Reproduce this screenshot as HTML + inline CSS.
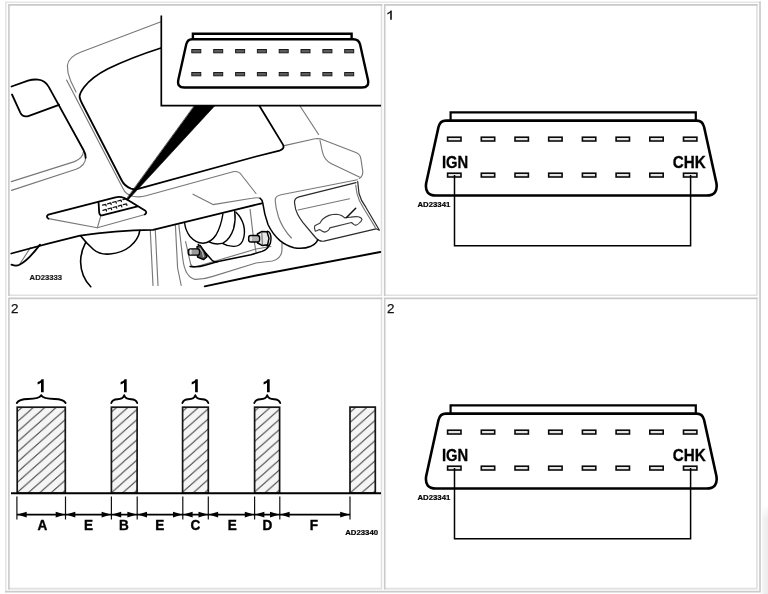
<!DOCTYPE html>
<html>
<head>
<meta charset="utf-8">
<title>Diagnostic connector</title>
<style>
html,body{margin:0;padding:0;background:#fff;width:768px;height:594px;overflow:hidden;}
svg{display:block;position:absolute;left:0;top:0;filter:blur(0.35px);}
text{font-family:"Liberation Sans",sans-serif;}
.b{font-weight:bold;}
</style>
</head>
<body>
<svg width="768" height="594" viewBox="0 0 768 594">
<defs>
  <pattern id="hatch" patternUnits="userSpaceOnUse" width="11.4" height="10.1" patternTransform="translate(18,400.9)">
    <rect x="0" y="0" width="11.4" height="10.1" fill="#f5f5f5"/>
    <path d="M-1.14,11.11 L12.54,-1.01 M-12.54,11.11 L1.14,-1.01 M10.26,11.11 L23.94,-1.01" stroke="#383838" stroke-width="0.95" fill="none"/>
  </pattern>
  <pattern id="hatchB" href="#hatch" patternTransform="translate(111.9,401.4)"/>
  <pattern id="hatchC" href="#hatch" patternTransform="translate(183.3,400.6)"/>
  <pattern id="hatchD" href="#hatch" patternTransform="translate(255.3,400.4)"/>
  <pattern id="hatchE" href="#hatch" patternTransform="translate(350.9,401.4)"/>
  <linearGradient id="shade" x1="0" y1="0" x2="1" y2="0">
    <stop offset="0" stop-color="#ffffff"/>
    <stop offset="0.25" stop-color="#f3f3f3"/>
    <stop offset="1" stop-color="#ebebeb"/>
  </linearGradient>
  <linearGradient id="shadeV" x1="0" y1="0" x2="0" y2="1">
    <stop offset="0" stop-color="#ffffff" stop-opacity="1"/>
    <stop offset="1" stop-color="#ffffff" stop-opacity="0"/>
  </linearGradient>

  <!-- big connector (panels 1 and 2 on the right) -->
  <g id="conn">
    <path d="M450.6,120.5 V112.3 H695.8 V120.5" fill="none" stroke="#000" stroke-width="2.2"/>
    <path d="M446,120.6 H696.5 Q702.6,120.6 704.1,127 L716.4,183 Q718.4,195.5 706.6,195.5 H436 Q424.2,195.5 426.2,183 L438.5,127 Q440,120.6 446,120.6 Z" fill="#fff" stroke="#000" stroke-width="2.6" stroke-linejoin="round"/>
    <g fill="#e4e4e4" stroke="#0a0a0a" stroke-width="1.6">
      <rect x="447.6" y="137.2" width="13.4" height="3.8"/>
      <rect x="481.3" y="137.2" width="13.4" height="3.8"/>
      <rect x="515.0" y="137.2" width="13.4" height="3.8"/>
      <rect x="548.7" y="137.2" width="13.4" height="3.8"/>
      <rect x="582.4" y="137.2" width="13.4" height="3.8"/>
      <rect x="616.1" y="137.2" width="13.4" height="3.8"/>
      <rect x="649.8" y="137.2" width="13.4" height="3.8"/>
      <rect x="683.5" y="137.2" width="13.4" height="3.8"/>
      <rect x="447.6" y="173.2" width="13.4" height="3.8"/>
      <rect x="481.3" y="173.2" width="13.4" height="3.8"/>
      <rect x="515.0" y="173.2" width="13.4" height="3.8"/>
      <rect x="548.7" y="173.2" width="13.4" height="3.8"/>
      <rect x="582.4" y="173.2" width="13.4" height="3.8"/>
      <rect x="616.1" y="173.2" width="13.4" height="3.8"/>
      <rect x="649.8" y="173.2" width="13.4" height="3.8"/>
      <rect x="683.5" y="173.2" width="13.4" height="3.8"/>
    </g>
    <path d="M454.5,175 V245.7 H690.6 V175" fill="none" stroke="#000" stroke-width="1.5"/>
    <text class="b" x="442" y="167.7" font-size="16.2" textLength="26.2" lengthAdjust="spacingAndGlyphs" stroke="#000" stroke-width="0.3">IGN</text>
    <text class="b" x="672.7" y="167.7" font-size="16.2" textLength="33" lengthAdjust="spacingAndGlyphs" stroke="#000" stroke-width="0.3">CHK</text>
    <text class="b" x="417.5" y="207" font-size="7.6" textLength="32.8" lengthAdjust="spacingAndGlyphs" stroke="#000" stroke-width="0.2">AD23341</text>
  </g>
</defs>

<!-- page background -->
<rect x="0" y="0" width="768" height="594" fill="#fff"/>

<!-- right-bottom faint shadow -->
<rect x="761.2" y="505" width="6.8" height="89" fill="url(#shade)"/>
<rect x="761.2" y="505" width="6.8" height="14" fill="url(#shadeV)"/>

<!-- outer frame (outset) -->
<path d="M5.85,592.4 V2.2 M5.1,2.2 H760.8" fill="none" stroke="#e6e6e6" stroke-width="1.6"/>
<path d="M760,1.5 V592.4 M5.1,591.7 H760.8" fill="none" stroke="#cbcbcb" stroke-width="1.7"/>

<!-- panel frames (inset) -->
<g fill="none" stroke-width="1.6">
  <rect x="8.9" y="4.9" width="372.6" height="290.4" fill="#fff" stroke="none"/>
  <path d="M381.5,4.1000000000000005 V296.1 M8.1,295.3 H382.3" stroke="#e0e0e0"/>
  <path d="M8.9,296.1 V4.1000000000000005 M8.1,4.9 H382.3" stroke="#c9c9c9"/>
  <rect x="384.7" y="4.9" width="372.2" height="290.4" fill="#fff" stroke="none"/>
  <path d="M756.9,4.1000000000000005 V296.1 M383.9,295.3 H757.6999999999999" stroke="#e0e0e0"/>
  <path d="M384.7,296.1 V4.1000000000000005 M383.9,4.9 H757.6999999999999" stroke="#c9c9c9"/>
  <rect x="8.9" y="298.4" width="372.6" height="290.2" fill="#fff" stroke="none"/>
  <path d="M381.5,297.59999999999997 V589.4 M8.1,588.6 H382.3" stroke="#e0e0e0"/>
  <path d="M8.9,589.4 V297.59999999999997 M8.1,298.4 H382.3" stroke="#c9c9c9"/>
  <rect x="384.7" y="298.4" width="372.2" height="290.2" fill="#fff" stroke="none"/>
  <path d="M756.9,297.59999999999997 V589.4 M383.9,588.6 H757.6999999999999" stroke="#e0e0e0"/>
  <path d="M384.7,589.4 V297.59999999999997 M383.9,298.4 H757.6999999999999" stroke="#c9c9c9"/>
</g>

<!-- panel numbers -->
<path d="M391.8,10.4 V19.8 H390.2 V12.7 Q389,13.8 387.3,14.4 V13 Q389.7,12 390.7,10.4 Z" fill="#111"/>
<text x="10.9" y="313.3" font-size="13.4" fill="#111" stroke="#111" stroke-width="0.25">2</text>
<text x="387.1" y="313.3" font-size="13.4" fill="#111" stroke="#111" stroke-width="0.25">2</text>

<!-- PANEL TR / BR connectors -->
<use href="#conn"/>
<use href="#conn" transform="translate(0,293)"/>

<!-- PANEL BL: waveform -->
<g>
  <g stroke="#151515" stroke-width="1.7">
    <rect x="17.2" y="407.2" width="48.1" height="86" fill="url(#hatch)"/>
    <rect x="111.4" y="407.2" width="25.7" height="86" fill="url(#hatchB)"/>
    <rect x="182.6" y="407.2" width="25.7" height="86" fill="url(#hatchC)"/>
    <rect x="254.6" y="407.2" width="25" height="86" fill="url(#hatchD)"/>
    <rect x="350" y="407.1" width="25.3" height="86" fill="url(#hatchE)"/>
  </g>
  <path d="M11,493.3 H381" stroke="#000" stroke-width="2" fill="none"/>
  <!-- braces -->
  <g fill="none" stroke="#000" stroke-width="1.9" stroke-linecap="round" stroke-linejoin="round">
    <path d="M16.8,403 Q19,399.2 28,399 Q39.5,399 41.2,395.2 Q43,399 54.5,399 Q63.5,399.2 65.6,403"/>
    <path d="M111.3,403 Q112.5,399.4 117.5,399.2 Q123,399 124.2,395.2 Q125.4,399 131,399.2 Q136,399.4 137.2,403"/>
    <path d="M182.4,403 Q183.6,399.4 188.6,399.2 Q194.1,399 195.3,395.2 Q196.5,399 202.1,399.2 Q207.1,399.4 208.3,403"/>
    <path d="M254.3,403 Q255.5,399.4 260.5,399.2 Q266,399 267.2,395.2 Q268.4,399 274,399.2 Q279,399.4 280.2,403"/>
  </g>
  <g fill="#000">
    <path transform="translate(42.3,379.2)" d="M1.4,0 V13.1 H-1.3 V3.5 Q-2.8,4.8 -4.7,5.3 V2.9 Q-1.6,1.9 -0.7,0 Z"/>
    <path transform="translate(125.3,379.2)" d="M1.4,0 V13.1 H-1.3 V3.5 Q-2.8,4.8 -4.7,5.3 V2.9 Q-1.6,1.9 -0.7,0 Z"/>
    <path transform="translate(196.4,379.2)" d="M1.4,0 V13.1 H-1.3 V3.5 Q-2.8,4.8 -4.7,5.3 V2.9 Q-1.6,1.9 -0.7,0 Z"/>
    <path transform="translate(268.3,379.2)" d="M1.4,0 V13.1 H-1.3 V3.5 Q-2.8,4.8 -4.7,5.3 V2.9 Q-1.6,1.9 -0.7,0 Z"/>
  </g>
  <!-- ticks -->
  <path d="M16.9,496.5 V519.5 M65.5,496.5 V519.5 M111.4,496.5 V519.5 M137.2,496.5 V519.5 M182.8,496.5 V519.5 M208.3,496.5 V519.5 M254.6,496.5 V519.5 M279.8,496.5 V519.5 M350,496.5 V519.5" stroke="#111" stroke-width="1.2" fill="none"/>
  <!-- dimension lines -->
  <path d="M17,514.6 H350" stroke="#000" stroke-width="1.9" fill="none"/>
  <g fill="#000">
    <path d="M17.5,514.6 l9.2,-2.8 v5.6 Z"/>
    <path d="M64.9,514.6 l-9.2,-2.8 v5.6 Z"/>
    <path d="M66.1,514.6 l9.2,-2.8 v5.6 Z"/>
    <path d="M110.8,514.6 l-9.2,-2.8 v5.6 Z"/>
    <path d="M112.0,514.6 l9.2,-2.8 v5.6 Z"/>
    <path d="M136.6,514.6 l-9.2,-2.8 v5.6 Z"/>
    <path d="M137.8,514.6 l9.2,-2.8 v5.6 Z"/>
    <path d="M182.2,514.6 l-9.2,-2.8 v5.6 Z"/>
    <path d="M183.4,514.6 l9.2,-2.8 v5.6 Z"/>
    <path d="M207.7,514.6 l-9.2,-2.8 v5.6 Z"/>
    <path d="M208.9,514.6 l9.2,-2.8 v5.6 Z"/>
    <path d="M254.0,514.6 l-9.2,-2.8 v5.6 Z"/>
    <path d="M255.2,514.6 l9.2,-2.8 v5.6 Z"/>
    <path d="M279.2,514.6 l-9.2,-2.8 v5.6 Z"/>
    <path d="M280.4,514.6 l9.2,-2.8 v5.6 Z"/>
    <path d="M349.4,514.6 l-9.2,-2.8 v5.6 Z"/>
  </g>
  <g class="b" font-size="14.6" text-anchor="middle" fill="#000" stroke="#000" stroke-width="0.4">
    <text transform="translate(42.3,530) scale(0.93,1)" x="0" y="0">A</text>
    <text transform="translate(88.6,530) scale(0.93,1)" x="0" y="0">E</text>
    <text transform="translate(123.9,530) scale(0.93,1)" x="0" y="0">B</text>
    <text transform="translate(159.8,530) scale(0.93,1)" x="0" y="0">E</text>
    <text transform="translate(195.3,530) scale(0.93,1)" x="0" y="0">C</text>
    <text transform="translate(232.2,530) scale(0.93,1)" x="0" y="0">E</text>
    <text transform="translate(267.3,530) scale(0.93,1)" x="0" y="0">D</text>
    <text transform="translate(314,530) scale(0.93,1)" x="0" y="0">F</text>
  </g>
  <text class="b" x="345.2" y="534.7" font-size="7.6" textLength="32.9" lengthAdjust="spacingAndGlyphs" stroke="#000" stroke-width="0.2">AD23340</text>
</g>


<!-- PANEL TL: dashboard illustration -->
<g fill="none" stroke-linecap="round" stroke-linejoin="round">
  <!-- thin gray lines -->
  <g stroke="#787878" stroke-width="1.15">
    <!-- outer windscreen frame -->
    <path d="M161,21.7 L80.5,52.2 Q68.5,56.6 67.4,65.5 Q67.2,73 70.5,80.5 L76,92"/>
    <path d="M66.6,80 L123,188.5 Q125.5,194.5 133,196.3 Q140,197.6 146,195.8 L233,171.8 Q238.5,170.6 241.5,175 L256,193.5"/>
    <!-- pillar trim bottom -->
    <path d="M83.5,151.5 Q83,158 74.5,161.6 L11.3,181.6"/>
    <path d="M85.8,157.5 Q85.5,165.5 76,169.3 L11.5,190.4"/>
    <!-- trapezoid lower edge -->
    <path d="M48.5,218.6 L97.3,227.8 L145,214.5"/>
    <path d="M100.8,215.8 L97.3,227.8"/>
    <!-- lower-left shape inner -->
    <path d="M20,263.8 L30.5,247.5"/>
    <!-- verticals under dash -->
    <path d="M150.3,230.6 L153,285.5 M155.3,229.9 L158,285.5"/>
    <path d="M175.4,225.4 L177.6,268 L181.2,285.5"/>
    <path d="M178.8,224.8 L182.8,259 Q185,277 195,279.4 Q203,279.6 212,276.6 L256,263 L272.5,261 Q282,258.5 282,249 L282,243"/>
    <path d="M185.6,241.5 L190.6,264 Q191.5,267.5 196,266.8 L256,249 L271,246.5"/>
    <!-- dash top right -->
    <path d="M193,194.2 L213,204.6 L252,198.3 Q258,197 260.5,198.6"/>
    <path d="M357.5,179.8 L281,194.8 Q275,196 275.2,200.5 Q275.6,208 278.5,217 Q282.5,228.5 291.4,238"/>
    <path d="M300,106 L318.6,134.5"/>
    <path d="M250.1,209.4 L253,234 L256,252"/>
    <path d="M284.3,145.6 L315,138.8 Q319.5,138 323.5,140 L356.5,152.8 Q360.5,154.5 361,159.5 L362.8,171.5 Q362.8,176.5 359.3,178.4"/>
    <path d="M320,140.5 L322.2,151 Q324,160 331,163.4 L359.3,177"/>
    <!-- hood release pocket -->
    <path d="M298,210 L349.5,198.8"/>
    <path d="M355.7,185 L357,193.7 Q359,201.5 363,207.2 L375.3,227.4"/>
  </g>
  <!-- darker secondary lines -->
  <g stroke="#2a2a2a" stroke-width="1.2">
    <path d="M379.4,230.2 L365.8,207.2 Q361,201 359,193.5 L357.7,181.6 M356,182.6 L299,196.8 Q294.3,198 294.5,202.5 Q295,209 297.5,214 Q299.5,218 302.8,222.4 L315.5,237.5 Q319,241.8 324,241.2 L376,228.8 L379.4,230.2"/>
    <!-- hood icon -->
    <path d="M315.3,231.2 Q313.8,228 314.8,225.8 Q317,224.4 319.8,223.3 Q321,220.6 323.2,218.7 Q325.8,216.6 329,215.4 Q332.5,214.2 336.5,214.2 Q339.5,214.4 341.5,215.4 Q343.5,216.6 344.8,217.9 Q347.5,217.4 350.7,217.1 Q354.5,216.4 358.2,216.7 Q361.8,217.4 361.9,219.6 Q361.4,221.4 359.8,222.5 Q358.4,224.2 356.5,225 Q355,225.4 354,224.6 Q352.6,223.6 351.5,222.5 L329.8,227.9 Q329.4,229.4 328.2,230.4 Q326.6,231.8 324.8,232.1 Q323,231.8 321.5,230.8 Q320.4,229.8 319.4,229.6 Q317.4,230.8 315.3,231.2 Z" stroke="#3c3c3c" stroke-width="1.15"/>
    <path d="M346.5,217.5 L355.7,208.3" stroke="#111" stroke-width="1.5"/>
    <!-- pin marks on small connector -->
    <path d="M102.5,205.2 l3.2,-0.9 l0.4,1.6 M107.6,203.8 l3.2,-0.9 l0.4,1.6 M112.7,202.4 l3.2,-0.9 l0.4,1.6 M117.8,201 l3.2,-0.9 l0.4,1.6 M102.9,210.3 l3.2,-0.9 l0.4,1.6 M108,208.9 l3.2,-0.9 l0.4,1.6 M113.1,207.5 l3.2,-0.9 l0.4,1.6 M118.2,206.1 l3.2,-0.9 l0.4,1.6 M123.3,204.7 l3.2,-0.9 l0.4,1.6 M123,199.6 l2.6,-0.7" stroke="#111" stroke-width="1.25"/>
  </g>
  <!-- thick black lines -->
  <g stroke="#000" stroke-width="1.8">
    <!-- inner windscreen -->
    <path d="M161,48 Q131,57.6 108,68.8 Q92,77 84.2,87 Q79.4,93.4 79.6,97 Q80.2,100 81.8,103 L121.5,180 Q124.5,186.2 131,188.6 Q135,189.8 139,188.6 L256,156.5 L279.5,150.6 Q285,149 283,144.6 L259.5,106"/>
    <!-- mirror / door trim -->
    <path d="M11.5,86.5 L28,80.6 Q33,79.2 38,79.6 Q45,80.2 48.6,86.6 L83.5,150 Q86,154.5 85.6,157.8"/>
    <path d="M59,104.8 L29,115.8 Q23,118 20.3,112.6 L12,94.5"/>
    <!-- trapezoid connector housing -->
    <path d="M144.8,214.4 Q147.6,212.6 145,210.4 L129.5,201 Q122,195.6 115.5,197.4 L48.4,214.6 Q45.5,216.2 48.4,218.6"/>
    <!-- long sweeping dash edge -->
    <path d="M11.3,253.5 Q46,243.8 80,235.6 Q114,230.4 153,229.8 L236,209.6 L261.8,203.3"/>
    <path d="M204.7,286.3 L256,275.5 L380.3,252"/>
    <!-- lower left -->
    <path d="M11.5,264.6 Q16,266.4 19.5,264.8 Q28,260.5 40,244.6"/>
    <!-- steering column arcs -->
    <path d="M80.8,236 Q86,243 93.5,249.5 Q100,255 110,254 Q122,253 130,246.5 Q138.5,239.5 139.8,230.6" stroke-width="1.6"/>
    <path d="M85.8,242.2 Q80.5,252 80.6,262 Q81,277 90.8,286.7" stroke-width="1.6"/>
    <!-- cylinders -->
    <path d="M184.7,223.5 Q185.5,230.5 190,236.5 Q196,243.2 203,243.2 Q211,242.6 216,235 Q221,226.5 222.9,214" stroke-width="1.4"/>
    <path d="M209.5,242.2 Q216,245.2 223,243.2 Q230,239.4 233.5,229 Q236,220 234.7,211" stroke-width="1.4"/>
    <path d="M222.9,243.6 Q228,246.6 234,246.4 Q240,246.2 242.6,241 Q245.8,233.5 243.6,225 Q241.5,217.5 236,212.2" stroke-width="1.4"/>
    <path d="M198.3,244.4 L211.8,260 Q214,262.4 218,261.5 L251,254.7 L262,251.4 Q268.2,249.2 270.5,242.4" stroke-width="1.5"/>
    <path d="M190,266.4 Q198,267.4 205,265.2 L218,261.5" stroke-width="1.5"/>
    <path d="M260,198.2 Q262.2,199.6 262.8,203.2 Q264.2,214 268,224.5 Q272.5,234 280,240.6 Q286,245.6 294,247.7 Q303,249.5 311,246.2 Q316.5,243.4 317.7,239.7" stroke-width="1.5"/>
    <!-- hood pocket heavy curve -->
  </g>
  <!-- bolts -->
  <g>
    <path d="M197,246.6 L200.2,245.4 L203.4,250.2 L207,256.8 L203.5,259.6 L197.5,257 Z" fill="#5a5a5a" stroke="#000" stroke-width="1.4"/>
    <path d="M200,248.4 L202.6,252.4 L203.4,256.6" stroke="#d8d8d8" stroke-width="1" fill="none"/>
    <rect x="188.3" y="248.8" width="11.2" height="6.4" rx="2.2" fill="#9a9a9a" stroke="#000" stroke-width="1.3"/>
    <path d="M190.8,250.3 v3.4" stroke="#eee" stroke-width="1.4"/>
    <ellipse cx="267.6" cy="238.6" rx="3.4" ry="7.4" fill="#fff" stroke="#000" stroke-width="1.4"/>
    <path d="M257.4,234 L261.6,231.6 L267,231.8 L269,238.4 L267.6,244.8 L262.5,245.6 L257.6,243 Z" fill="#e6e6e6" stroke="#000" stroke-width="1.5"/>
    <path d="M261.8,232.5 L262.4,244.8" stroke="#555" stroke-width="0.9"/>
    <rect x="248.6" y="235.5" width="11" height="6.5" rx="2.2" fill="#b5b5b5" stroke="#000" stroke-width="1.3"/>
    <path d="M251,237 v3.4" stroke="#f4f4f4" stroke-width="1.5"/>
  </g>
  <!-- small connector in trapezoid -->
  <path d="M98.6,203 L99.2,212.6 Q99.6,216 103,215.2 L137.6,206.4" stroke="#000" stroke-width="1.8"/>
  <!-- pointer wedge -->
  <path d="M194.6,105.7 L214.8,105.7 L127.4,200.6 L126.2,199.8 Z" fill="#000" stroke="#000" stroke-width="0.6"/>
  <!-- inset box -->
  <path d="M161.3,15.6 V105.7 H381" stroke="#000" stroke-width="1.7" fill="#fff" stroke-linejoin="miter" stroke-linecap="butt"/>
</g>
<!-- inset connector -->
<g>
  <path d="M192.9,39 V33.8 H351.6 V39" fill="none" stroke="#000" stroke-width="2.4"/>
  <path d="M192,39.2 H353.4 Q358.8,39.2 360.1,44.5 L367.9,79.4 Q369.7,87.5 361.8,87.5 H184.5 Q176.6,87.5 178.4,79.4 L186.2,44.5 Q187.5,39.2 192,39.2 Z" fill="#fff" stroke="#000" stroke-width="2.4" stroke-linejoin="round"/>
  <g fill="#5c5c5c" stroke="#1c1c1c" stroke-width="1">
    <rect x="191.8" y="49.5" width="9" height="3.3"/>
    <rect x="213.7" y="49.5" width="9" height="3.3"/>
    <rect x="235.6" y="49.5" width="9" height="3.3"/>
    <rect x="257.4" y="49.5" width="9" height="3.3"/>
    <rect x="279.2" y="49.5" width="9" height="3.3"/>
    <rect x="301.0" y="49.5" width="9" height="3.3"/>
    <rect x="322.9" y="49.5" width="9" height="3.3"/>
    <rect x="344.7" y="49.5" width="9" height="3.3"/>
    <rect x="191.8" y="72.5" width="9" height="3.3"/>
    <rect x="213.7" y="72.5" width="9" height="3.3"/>
    <rect x="235.6" y="72.5" width="9" height="3.3"/>
    <rect x="257.4" y="72.5" width="9" height="3.3"/>
    <rect x="279.2" y="72.5" width="9" height="3.3"/>
    <rect x="301.0" y="72.5" width="9" height="3.3"/>
    <rect x="322.9" y="72.5" width="9" height="3.3"/>
    <rect x="344.7" y="72.5" width="9" height="3.3"/>
  </g>
</g>
<text class="b" x="29.6" y="280" font-size="7.8" textLength="32.5" lengthAdjust="spacingAndGlyphs" fill="#1a1a1a" stroke="#1a1a1a" stroke-width="0.2">AD23333</text>


</svg>
</body>
</html>
